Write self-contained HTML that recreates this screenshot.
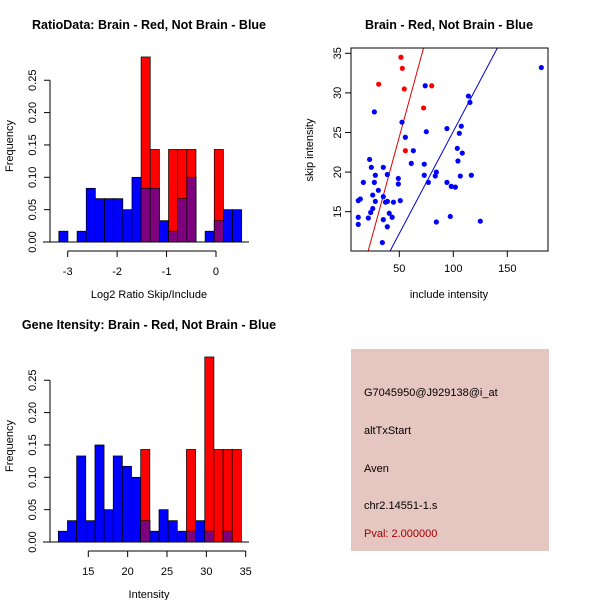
<!DOCTYPE html>
<html><head><meta charset="utf-8"><style>
body{margin:0;background:#fff;}
svg{display:block;font-family:"Liberation Sans",sans-serif;}
</style></head><body>
<svg id="c" width="600" height="600" xmlns="http://www.w3.org/2000/svg">
<rect width="600" height="600" fill="#fff"/>
<text x="149" y="29" text-anchor="middle" font-weight="bold" font-size="12.5">RatioData: Brain - Red, Not Brain - Blue</text>
<text x="449" y="29" text-anchor="middle" font-weight="bold" font-size="12.5">Brain - Red, Not Brain - Blue</text>
<text x="149" y="329" text-anchor="middle" font-weight="bold" font-size="12.5">Gene Itensity: Brain - Red, Not Brain - Blue</text>
<text x="149" y="298" text-anchor="middle" font-size="11">Log2 Ratio Skip/Include</text>
<text x="149" y="598" text-anchor="middle" font-size="11">Intensity</text>
<text x="449" y="298" text-anchor="middle" font-size="11">include intensity</text>
<text transform="translate(13,146) rotate(-90)" text-anchor="middle" font-size="11">Frequency</text>
<text transform="translate(13,446) rotate(-90)" text-anchor="middle" font-size="11">Frequency</text>
<text transform="translate(313,150) rotate(-90)" text-anchor="middle" font-size="11">skip intensity</text>
<g>
<rect x="351" y="349" width="198" height="202" fill="#e6c6c0"/>
<text x="364" y="396" font-size="11">G7045950@J929138@i_at</text>
<text x="364" y="434" font-size="11">altTxStart</text>
<text x="364" y="472" font-size="11">Aven</text>
<text x="364" y="509" font-size="11">chr2.14551-1.s</text>
<text x="364" y="537" font-size="11" fill="#a00000">Pval: 2.000000</text>
</g>
</svg>
<script>
// Ratio histogram data
const ratioBreakStart = -3.18;
const ratioBinWidth = 0.185;
const ratioBlue = [0.0167,0,0.0167,0.083,0.067,0.067,0.067,0.05,0.1,0.083,0.083,0.033,0.0167,0.067,0.1,0,0.0167,0.033,0.05,0.05];
const ratioRed  = [0,0,0,0,0,0,0,0,0,0.286,0.143,0,0.143,0.143,0.143,0,0,0.143,0,0];
const ratioXTicks = [-3,-2,-1,0];
// Intensity histogram data
const intBreakStart = 11.19;
const intBinWidth = 1.163;
const intBlue = [0.0167,0.033,0.133,0.033,0.15,0.05,0.133,0.117,0.1,0.033,0.0167,0.05,0.033,0.0167,0.0167,0.033,0.0167,0,0.0167,0];
const intRed  = [0,0,0,0,0,0,0,0,0,0.143,0,0,0,0,0.143,0,0.286,0.143,0.143,0.143];
const intXTicks = [15,20,25,30,35];
const freqTicks = [0,0.05,0.10,0.15,0.20,0.25];
const freqLabels = ["0.00","0.05","0.10","0.15","0.20","0.25"];
// Scatter data
const redX = [51.5,52.8,30.9,54.6,80,72.5,55.6];
const redY = [34.5,33.1,31.1,30.5,30.9,28.1,22.7];
const blueX = [181.5,74,114,115.4,26.9,52.5,94.1,107.4,105.6,55.6,75,63,103.7,108.3,61.1,104.3,22.5,24.1,35.2,73.1,27.8,38.9,49.1,73.1,84.3,83.3,106.5,116.7,16.7,26.9,49.1,76.9,94.1,98.1,101.9,30.6,25.4,35.2,12,13.9,27.8,50.9,44.6,37.2,39,25.4,23.5,40.7,43.4,12,21.3,35.2,97.2,84.3,125,12,38.9,34.3];
const blueY = [33.2,30.9,29.6,28.8,27.6,26.3,25.5,25.8,24.9,24.4,25.1,22.7,23,22.4,21.1,21.4,21.6,20.6,20.6,21,19.6,19.7,19.2,19.6,20,19.5,19.5,19.6,18.7,18.7,18.5,18.7,18.7,18.2,18.1,17.7,17.1,16.9,16.4,16.6,16.3,16.4,16.2,16.2,16.3,15.4,14.9,14.8,14.3,14.3,14.2,14,14.4,13.7,13.8,13.4,13.1,11.1];
const redFit = [-0.55,0.5];
const blueFit = [-0.66,0.258];
const scXTicks = [50,100,150];
const scYTicks = [15,20,25,30,35];

const NS = "http://www.w3.org/2000/svg";
const svg = document.getElementById('c');
function mk(tag, attrs, parent){const e=document.createElementNS(NS,tag);for(const k in attrs)e.setAttribute(k,attrs[k]);(parent||svg).appendChild(e);return e;}

function hist(id, start, w, blue, red, xticks, x0px, pxPerUnit, base){
  const g = mk('g',{});
  
  
  const X = v => x0px + (v - xticks[0]) * pxPerUnit;
  const Y = v => base - v * 647;
  // y axis
  mk('line',{x1:50,y1:Y(0),x2:50,y2:Y(0.25),stroke:'#000'},g);
  freqTicks.forEach((t,i)=>{
    mk('line',{x1:44,y1:Y(t),x2:50,y2:Y(t),stroke:'#000'},g);
    const tx = mk('text',{transform:`translate(36,${Y(t)}) rotate(-90)`,'text-anchor':'middle','font-size':11},g);
    tx.textContent = freqLabels[i];
    
    
  });
  // baseline
  mk('line',{x1:43,y1:base,x2:249,y2:base,stroke:'#000'},g);
  for(let i=0;i<blue.length;i++){
    const a = X(start+i*w), b = X(start+(i+1)*w);
    if(blue[i]>0){
      const r = mk('rect',{x:a,y:Y(blue[i]),width:b-a,height:base-Y(blue[i]),fill:'#0000ff',stroke:'#000','stroke-width':0.7},g);
      
      
    }
  }
  for(let i=0;i<red.length;i++){
    const a = X(start+i*w), b = X(start+(i+1)*w);
    if(red[i]>0){
      const r = mk('rect',{x:a,y:Y(red[i]),width:b-a,height:base-Y(red[i]),fill:'#ff0000',stroke:'#000','stroke-width':0.7},g);
      
      
      const m = Math.min(red[i],blue[i]);
      if(m>0){
        const p = mk('rect',{x:a,y:Y(m),width:b-a,height:base-Y(m),fill:'#7f007f',stroke:'#000','stroke-width':0.7},g);
        
        
      }
    }
  }
  // x axis
  const ay = base + 9;
  mk('line',{x1:X(xticks[0]),y1:ay,x2:X(xticks[xticks.length-1]),y2:ay,stroke:'#000'},g);
  xticks.forEach(t=>{
    mk('line',{x1:X(t),y1:ay,x2:X(t),y2:ay+6,stroke:'#000'},g);
    const tx = mk('text',{x:X(t),y:ay+24,'text-anchor':'middle','font-size':11},g);
    tx.textContent = String(t).replace('-','-');
    
    
  });
}
hist('ratio', ratioBreakStart, ratioBinWidth, ratioBlue, ratioRed, ratioXTicks, 67.7, 49.43, 242);
hist('intensity', intBreakStart, intBinWidth, intBlue, intRed, intXTicks, 88.3, 7.87, 542);

// scatter
(function(){
  const g = mk('g',{});
  
  
  const L=351,R=548,T=48,B=251;
  const X = v => 399.3 + (v-50)*1.08;
  const Y = v => 211.7 - (v-15)*7.92;
  mk('clipPath',{id:'clipsc'},g);
  const cp = g.lastChild; mk('rect',{x:L,y:T,width:R-L,height:B-T},cp);
  [[redFit,'#dd0000'],[blueFit,'#0000cc']].forEach(([f,col])=>{
    const x1 = 0, x2 = 200;
    const ln = mk('line',{x1:X(x1),y1:Y(f[0]+f[1]*x1),x2:X(x2),y2:Y(f[0]+f[1]*x2),stroke:col,'stroke-width':1,'clip-path':'url(#clipsc)'},g);
    
    
  });
  blueX.forEach((x,i)=>{
    const c = mk('circle',{cx:X(x),cy:Y(blueY[i]),r:2.6,fill:'#0000ff'},g);
    
    
  });
  redX.forEach((x,i)=>{
    const c = mk('circle',{cx:X(x),cy:Y(redY[i]),r:2.6,fill:'#ff0000'},g);
    
    
  });
  mk('rect',{x:L,y:T,width:R-L,height:B-T,fill:'none',stroke:'#000'},g);
  scXTicks.forEach(t=>{
    mk('line',{x1:X(t),y1:B,x2:X(t),y2:B+6,stroke:'#000'},g);
    const tx = mk('text',{x:X(t),y:B+21,'text-anchor':'middle','font-size':11},g);
    tx.textContent = t;
    
    
  });
  scYTicks.forEach(t=>{
    mk('line',{x1:L-6,y1:Y(t),x2:L,y2:Y(t),stroke:'#000'},g);
    const tx = mk('text',{transform:`translate(${L-10},${Y(t)}) rotate(-90)`,'text-anchor':'middle','font-size':11},g);
    tx.textContent = t;
    
    
  });
})();
</script>
</body></html>
